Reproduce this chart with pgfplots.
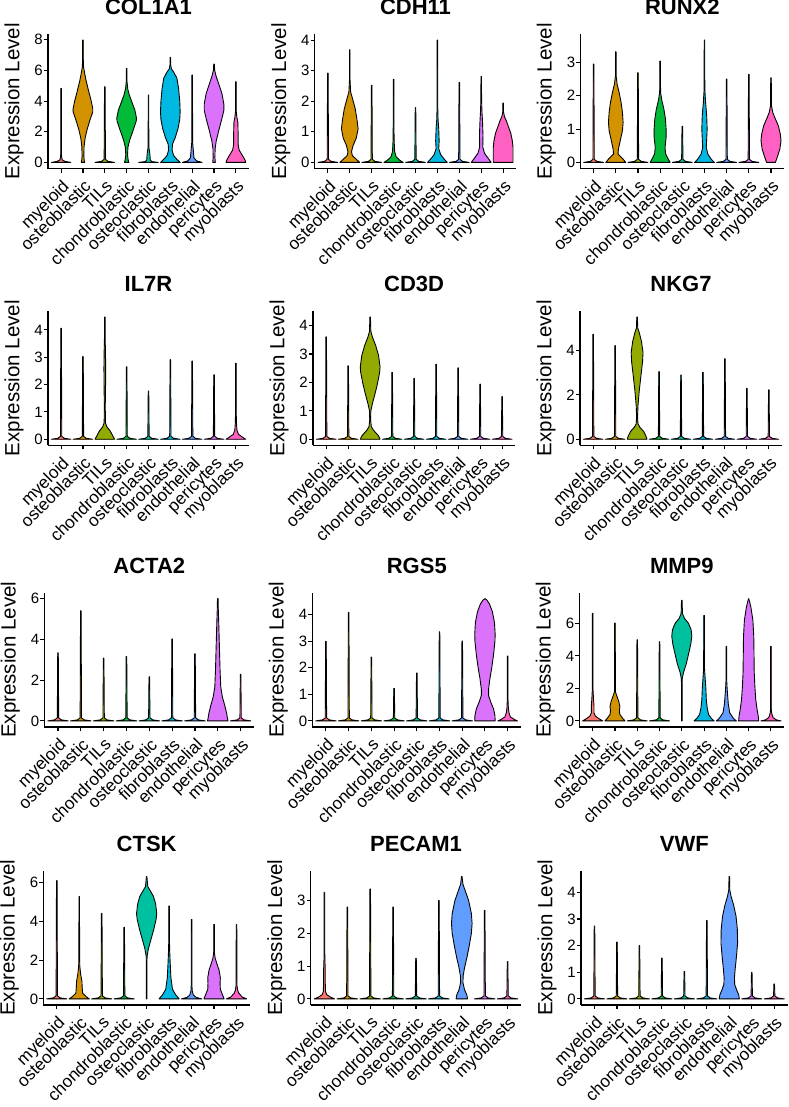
\documentclass[border=0pt]{standalone}
\usepackage{fontspec}
\setmainfont{Liberation Sans}
\usepackage{pgfplots}
\pgfplotsset{compat=1.18}

\definecolor{c1}{HTML}{F8766D}
\definecolor{c2}{HTML}{D39200}
\definecolor{c3}{HTML}{93AA00}
\definecolor{c4}{HTML}{00BA38}
\definecolor{c5}{HTML}{00C19F}
\definecolor{c6}{HTML}{00B9E3}
\definecolor{c7}{HTML}{619CFF}
\definecolor{c8}{HTML}{DB72FB}
\definecolor{c9}{HTML}{FF61C3}

\newcommand\tkf{\fontsize{17.2bp}{19bp}\selectfont}
\newcommand\ytf{\fontsize{15bp}{17bp}\selectfont}
\newcommand\titf{\bfseries\fontsize{22bp}{24bp}\selectfont}
\newcommand\ylf{\fontsize{20.5bp}{22bp}\selectfont}

% one violin: #1 category, #2 colour, #3 half-profile rows "w y" (half width, level)
\newcommand\violin[3]{%
  \addplot[fill=#2, draw=#2, line width=0.3bp, forget plot] table[row sep=crcr, x expr=#1+\thisrow{w}-0.015, y=y] {w y\\ #3\\};
  \addplot[fill=#2, draw=#2, line width=0.3bp, forget plot] table[row sep=crcr, x expr=#1-\thisrow{w}+0.015, y=y] {w y\\ #3\\};
  \addplot[vl, forget plot] table[row sep=crcr, x expr=#1+\thisrow{w}, y=y] {w y\\ #3\\};
  \addplot[vl, forget plot] table[row sep=crcr, x expr=#1-\thisrow{w}, y=y] {w y\\ #3\\};
}
% mostly-zero violin: #3 max, #4 #5 heights of the blob at zero
\newcommand\tv[5]{\violin{#1}{#2}{0 0\\0.45 0\\0.15 #4\\0.03 #5\\0.012 #3\\0 #3}}

\pgfplotsset{
  vl/.style={draw=black, line width=0.9bp, line join=round},
  vp/.style={
    scale only axis, height=134.5bp, anchor=south west,
    xmin=0.4, xmax=9.6,
    axis lines*=left,
    axis line style={line width=1.2bp},
    tick align=outside, major tick length=4bp,
    tick style={black, line width=1.1bp},
    xtick={1,...,9},
    xticklabels={myeloid,osteoblastic,TILs,chondroblastic,osteoclastic,fibroblasts,endothelial,pericytes,myoblasts},
    x tick label style={rotate=45, anchor=north east, inner sep=0pt, font=\tkf},
    xticklabel shift=6bp,
    y tick label style={inner sep=1bp, font=\ytf},
    /pgf/number format/assume math mode=true,
    title style={font=\titf, at={(axis description cs:0.5,1)}, anchor=center, inner sep=0pt, yshift=21bp},
    ylabel={Expression Level},
    ylabel style={font=\ylf, at={([xshift=-34bp]axis description cs:0,0.5)}, anchor=center, inner sep=0pt},
  },
}

\begin{document}
\begin{tikzpicture}
\path[use as bounding box] (0,0) rectangle (789bp,-1107bp);

% ---------------- row 1
\begin{axis}[vp, at={(48bp,-168.5bp)}, width=201bp, ymin=-0.399, ymax=8.379, ytick={0,2,4,6,8}, title={COL1A1}]
\violin{1}{c1}{0 0\\0.44 0\\0.2 0.06\\0.06 0.15\\0.03 0.3\\0.012 0.6\\0.012 4.83\\0 4.83}
\violin{2}{c2}{0 0\\0.08 0\\0.06 0.1\\0.04 0.4\\0.05 1.0\\0.1 1.6\\0.2 2.2\\0.33 2.8\\0.45 3.3\\0.45 3.5\\0.38 4.0\\0.27 4.6\\0.15 5.3\\0.08 5.8\\0.03 6.2\\0.012 6.8\\0.012 7.98\\0 7.98}
\tv{3}{c3}{4.93}{0.065}{0.2}
\violin{4}{c4}{0 0\\0.1 0\\0.07 0.15\\0.04 0.5\\0.06 1.0\\0.15 1.5\\0.3 2.1\\0.44 2.7\\0.45 2.9\\0.38 3.4\\0.25 3.9\\0.12 4.4\\0.05 4.8\\0.015 5.3\\0.012 6.13\\0 6.13}
\violin{5}{c5}{0 0\\0.45 0\\0.15 0.05\\0.08 0.15\\0.07 0.4\\0.05 0.7\\0.015 1.0\\0.012 4.39\\0 4.39}
\violin{6}{c6}{0 0\\0.45 0\\0.3 0.2\\0.15 0.45\\0.08 0.8\\0.1 1.2\\0.22 1.6\\0.35 2.2\\0.43 2.8\\0.45 3.3\\0.43 4.0\\0.38 4.8\\0.3 5.5\\0.15 5.9\\0.05 6.1\\0.012 6.4\\0.012 6.85\\0 6.85}
\violin{7}{c7}{0 0\\0.45 0\\0.2 0.1\\0.08 0.3\\0.05 0.8\\0.02 1.3\\0.012 5.7\\0 5.7}
\violin{8}{c8}{0 0\\0.06 0\\0.04 0.3\\0.05 0.9\\0.1 1.4\\0.22 2.1\\0.35 2.8\\0.45 3.4\\0.45 3.8\\0.36 4.5\\0.22 5.1\\0.1 5.6\\0.03 6.0\\0.012 6.41\\0 6.41}
\violin{9}{c9}{0 0\\0.45 0\\0.42 0.15\\0.3 0.45\\0.15 0.8\\0.1 1.2\\0.1 2.0\\0.09 2.6\\0.04 3.0\\0.012 3.4\\0.012 5.26\\0 5.26}
\end{axis}

\begin{axis}[vp, at={(314.7bp,-168.5bp)}, width=201.6bp, ymin=-0.2, ymax=4.2, ytick={0,1,2,3,4}, title={CDH11}]
\tv{1}{c1}{2.92}{0.033}{0.1}
\violin{2}{c2}{0 0\\0.45 0\\0.3 0.1\\0.12 0.22\\0.08 0.35\\0.15 0.55\\0.3 0.8\\0.38 1.1\\0.33 1.4\\0.25 1.75\\0.12 2.1\\0.04 2.3\\0.012 2.7\\0.012 3.68\\0 3.68}
\tv{3}{c3}{2.52}{0.033}{0.1}
\violin{4}{c4}{0 0\\0.44 0\\0.3 0.06\\0.12 0.18\\0.05 0.35\\0.025 0.7\\0.015 1.3\\0.012 2.72\\0 2.72}
\tv{5}{c5}{1.79}{0.033}{0.1}
\violin{6}{c6}{0 0\\0.45 0\\0.32 0.1\\0.15 0.25\\0.06 0.45\\0.08 0.7\\0.06 1.1\\0.03 1.4\\0.015 1.8\\0.012 4.0\\0 4.0}
\tv{7}{c7}{2.62}{0.033}{0.1}
\violin{8}{c8}{0 0\\0.45 0\\0.35 0.1\\0.15 0.3\\0.07 0.5\\0.08 0.9\\0.06 1.3\\0.03 1.7\\0.015 2.1\\0.012 2.81\\0 2.81}
\violin{9}{c9}{0 0\\0.45 0\\0.45 0.2\\0.45 0.5\\0.42 0.7\\0.35 0.95\\0.25 1.15\\0.15 1.35\\0.06 1.5\\0.015 1.65\\0.012 1.94\\0 1.94}
\end{axis}

\begin{axis}[vp, at={(580.3bp,-168.5bp)}, width=204bp, ymin=-0.1835, ymax=3.8535, ytick={0,1,2,3}, title={RUNX2}]
\tv{1}{c1}{2.95}{0.03}{0.09}
\violin{2}{c2}{0 0\\0.45 0\\0.3 0.12\\0.1 0.25\\0.12 0.4\\0.2 0.65\\0.3 0.95\\0.33 1.2\\0.3 1.5\\0.24 1.8\\0.15 2.1\\0.06 2.35\\0.015 2.6\\0.012 3.32\\0 3.32}
\tv{3}{c3}{2.69}{0.03}{0.09}
\violin{4}{c4}{0 0\\0.45 0\\0.38 0.08\\0.25 0.25\\0.22 0.45\\0.27 0.75\\0.27 1.0\\0.24 1.3\\0.17 1.6\\0.08 1.85\\0.02 2.1\\0.012 3.04\\0 3.04}
\tv{5}{c5}{1.08}{0.03}{0.09}
\violin{6}{c6}{0 0\\0.45 0\\0.3 0.1\\0.15 0.25\\0.08 0.45\\0.1 0.7\\0.12 1.0\\0.1 1.4\\0.05 1.8\\0.015 2.2\\0.012 3.67\\0 3.67}
\tv{7}{c7}{2.5}{0.03}{0.09}
\tv{8}{c8}{2.64}{0.03}{0.09}
\violin{9}{c9}{0 0\\0.2 0\\0.28 0.15\\0.4 0.4\\0.45 0.65\\0.42 0.85\\0.33 1.1\\0.2 1.3\\0.08 1.5\\0.02 1.7\\0.012 2.54\\0 2.54}
\end{axis}

% ---------------- row 2
\begin{axis}[vp, at={(48bp,-445.4bp)}, width=201bp, ymin=-0.2235, ymax=4.6935, ytick={0,1,2,3,4}, title={IL7R}]
\tv{1}{c1}{4.06}{0.036}{0.11}
\tv{2}{c2}{3.02}{0.036}{0.11}
\violin{3}{c3}{0 0\\0.45 0\\0.38 0.1\\0.25 0.3\\0.1 0.45\\0.03 0.6\\0.02 1.2\\0.035 2.0\\0.04 2.6\\0.03 3.2\\0.015 3.7\\0.012 4.47\\0 4.47}
\tv{4}{c4}{2.65}{0.036}{0.11}
\tv{5}{c5}{1.76}{0.036}{0.11}
\tv{6}{c6}{2.91}{0.036}{0.11}
\tv{7}{c7}{2.86}{0.036}{0.11}
\tv{8}{c8}{2.36}{0.036}{0.11}
\violin{9}{c9}{0 0\\0.45 0\\0.3 0.08\\0.12 0.18\\0.05 0.33\\0.025 0.6\\0.015 1.0\\0.012 2.78\\0 2.78}
\end{axis}

\begin{axis}[vp, at={(313bp,-445.4bp)}, width=202.3bp, ymin=-0.215, ymax=4.515, ytick={0,1,2,3,4}, title={CD3D}]
\tv{1}{c1}{3.6}{0.035}{0.1}
\tv{2}{c2}{2.58}{0.035}{0.1}
\violin{3}{c3}{0 0\\0.45 0\\0.38 0.12\\0.15 0.32\\0.05 0.45\\0.02 0.7\\0.03 1.0\\0.1 1.25\\0.22 1.6\\0.33 1.95\\0.43 2.35\\0.45 2.55\\0.38 2.95\\0.25 3.3\\0.1 3.6\\0.03 3.8\\0.012 4.3\\0 4.3}
\tv{4}{c4}{2.35}{0.035}{0.1}
\tv{5}{c5}{2.14}{0.035}{0.1}
\tv{6}{c6}{2.64}{0.035}{0.1}
\tv{7}{c7}{2.51}{0.035}{0.1}
\tv{8}{c8}{1.94}{0.035}{0.1}
\tv{9}{c9}{1.5}{0.035}{0.1}
\end{axis}

\begin{axis}[vp, at={(580bp,-445.4bp)}, width=202bp, ymin=-0.275, ymax=5.775, ytick={0,2,4}, title={NKG7}]
\tv{1}{c1}{4.72}{0.045}{0.13}
\tv{2}{c2}{4.21}{0.045}{0.13}
\violin{3}{c3}{0 0\\0.45 0\\0.4 0.15\\0.3 0.35\\0.12 0.55\\0.04 0.7\\0.02 1.0\\0.04 1.5\\0.1 2.2\\0.18 2.9\\0.25 3.5\\0.27 3.9\\0.2 4.4\\0.1 4.8\\0.03 5.0\\0.012 5.5\\0 5.5}
\tv{4}{c4}{3.04}{0.045}{0.13}
\tv{5}{c5}{2.89}{0.045}{0.13}
\tv{6}{c6}{3.01}{0.045}{0.13}
\tv{7}{c7}{3.62}{0.045}{0.13}
\tv{8}{c8}{2.29}{0.045}{0.13}
\tv{9}{c9}{2.22}{0.045}{0.13}
\end{axis}

% ---------------- row 3
\begin{axis}[vp, at={(44.3bp,-727bp)}, width=210bp, ymin=-0.3, ymax=6.3, ytick={0,2,4,6}, title={ACTA2}]
\tv{1}{c1}{3.34}{0.049}{0.15}
\tv{2}{c2}{5.4}{0.049}{0.15}
\tv{3}{c3}{3.08}{0.049}{0.15}
\tv{4}{c4}{3.16}{0.049}{0.15}
\tv{5}{c5}{2.16}{0.049}{0.15}
\tv{6}{c6}{4.02}{0.049}{0.15}
\tv{7}{c7}{3.29}{0.049}{0.15}
\violin{8}{c8}{0 0\\0.45 0\\0.42 0.15\\0.39 0.37\\0.3 0.78\\0.2 1.18\\0.13 1.67\\0.1 2.5\\0.08 3.3\\0.06 4.1\\0.04 4.9\\0.02 5.56\\0.012 6.0\\0 6.0}
\tv{9}{c9}{2.29}{0.049}{0.15}
\end{axis}

\begin{axis}[vp, at={(312.3bp,-727bp)}, width=209bp, ymin=-0.23, ymax=4.83, ytick={0,1,2,3,4}, title={RGS5}]
\tv{1}{c1}{2.99}{0.038}{0.11}
\tv{2}{c2}{4.08}{0.038}{0.11}
\tv{3}{c3}{2.4}{0.038}{0.11}
\tv{4}{c4}{1.22}{0.038}{0.11}
\tv{5}{c5}{1.8}{0.038}{0.11}
\tv{6}{c6}{3.35}{0.038}{0.11}
\tv{7}{c7}{3.0}{0.038}{0.11}
\violin{8}{c8}{0 0\\0.45 0\\0.44 0.2\\0.38 0.45\\0.26 0.7\\0.16 0.95\\0.16 1.2\\0.22 1.6\\0.3 2.0\\0.38 2.5\\0.44 3.0\\0.45 3.25\\0.42 3.7\\0.33 4.1\\0.2 4.4\\0.08 4.55\\0 4.6}
\violin{9}{c9}{0 0\\0.43 0\\0.3 0.05\\0.12 0.15\\0.06 0.3\\0.03 0.5\\0.015 0.8\\0.012 2.44\\0 2.44}
\end{axis}

\begin{axis}[vp, at={(579.3bp,-727bp)}, width=205bp, ymin=-0.376, ymax=7.896, ytick={0,2,4,6}, title={MMP9}]
\violin{1}{c1}{0 0\\0.45 0\\0.3 0.12\\0.12 0.3\\0.06 0.5\\0.06 0.9\\0.04 1.3\\0.015 1.9\\0.012 6.62\\0 6.62}
\violin{2}{c2}{0 0\\0.45 0\\0.35 0.15\\0.22 0.4\\0.2 0.6\\0.22 0.9\\0.17 1.2\\0.08 1.55\\0.02 1.8\\0.012 6.02\\0 6.02}
\tv{3}{c3}{4.99}{0.062}{0.19}
\tv{4}{c4}{4.87}{0.062}{0.19}
\violin{5}{c5}{0 0\\0.012 0\\0.012 2.2\\0.02 2.6\\0.08 3.0\\0.2 3.5\\0.3 4.1\\0.4 4.7\\0.45 5.2\\0.42 5.6\\0.3 6.0\\0.12 6.3\\0.03 6.6\\0.012 7.41\\0 7.41}
\violin{6}{c6}{0 0\\0.45 0\\0.33 0.15\\0.2 0.4\\0.14 0.8\\0.1 1.3\\0.08 2.0\\0.05 2.6\\0.02 3.2\\0.012 6.48\\0 6.48}
\violin{7}{c7}{0 0\\0.45 0\\0.32 0.15\\0.15 0.5\\0.09 1.0\\0.06 1.5\\0.03 2.1\\0.015 2.5\\0.012 4.58\\0 4.58}
\violin{8}{c8}{0 0\\0.45 0\\0.43 0.3\\0.38 0.7\\0.32 1.3\\0.28 2.1\\0.25 3.0\\0.24 4.2\\0.23 5.2\\0.19 6.2\\0.1 7.0\\0.04 7.35\\0 7.52}
\violin{9}{c9}{0 0\\0.45 0\\0.25 0.06\\0.1 0.2\\0.06 0.35\\0.03 0.5\\0.015 0.7\\0.012 4.58\\0 4.58}
\end{axis}

% ---------------- row 4
\begin{axis}[vp, at={(43.3bp,-1005bp)}, width=206.7bp, ymin=-0.3155, ymax=6.6255, ytick={0,2,4,6}, title={CTSK}]
\tv{1}{c1}{6.1}{0.052}{0.16}
\violin{2}{c2}{0 0\\0.45 0\\0.3 0.12\\0.15 0.3\\0.13 0.6\\0.12 0.9\\0.06 1.3\\0.025 1.7\\0.015 2.1\\0.012 5.28\\0 5.28}
\tv{3}{c3}{4.41}{0.052}{0.16}
\tv{4}{c4}{3.69}{0.052}{0.16}
\violin{5}{c5}{0 0\\0.012 0\\0.012 1.8\\0.02 2.2\\0.08 2.6\\0.2 3.1\\0.32 3.6\\0.42 4.1\\0.45 4.4\\0.4 4.9\\0.3 5.3\\0.15 5.6\\0.05 5.8\\0.012 6.31\\0 6.31}
\violin{6}{c6}{0 0\\0.45 0\\0.3 0.2\\0.15 0.5\\0.08 1.1\\0.05 1.8\\0.025 2.5\\0.015 3.0\\0.012 4.79\\0 4.79}
\violin{7}{c7}{0 0\\0.45 0\\0.2 0.08\\0.08 0.2\\0.03 0.4\\0.015 0.7\\0.012 4.1\\0 4.1}
\violin{8}{c8}{0 0\\0.45 0\\0.38 0.2\\0.28 0.5\\0.27 0.8\\0.28 1.1\\0.22 1.5\\0.13 1.8\\0.05 2.1\\0.015 2.4\\0.012 3.84\\0 3.84}
\violin{9}{c9}{0 0\\0.45 0\\0.25 0.1\\0.1 0.3\\0.05 0.45\\0.02 0.7\\0.012 3.84\\0 3.84}
\end{axis}

\begin{axis}[vp, at={(310.7bp,-1005bp)}, width=210.6bp, ymin=-0.1865, ymax=3.9165, ytick={0,1,2,3}, title={PECAM1}]
\violin{1}{c1}{0 0\\0.44 0\\0.25 0.06\\0.1 0.13\\0.05 0.22\\0.035 0.5\\0.035 0.9\\0.02 1.2\\0.012 1.5\\0.012 3.25\\0 3.25}
\tv{2}{c2}{2.8}{0.03}{0.09}
\tv{3}{c3}{3.35}{0.03}{0.09}
\tv{4}{c4}{2.8}{0.03}{0.09}
\tv{5}{c5}{1.24}{0.03}{0.09}
\tv{6}{c6}{3.0}{0.03}{0.09}
\violin{7}{c7}{0 0\\0.25 0\\0.22 0.12\\0.12 0.28\\0.05 0.5\\0.06 0.7\\0.12 0.95\\0.22 1.25\\0.32 1.6\\0.42 2.0\\0.45 2.3\\0.42 2.6\\0.3 3.0\\0.15 3.3\\0.05 3.5\\0.012 3.73\\0 3.73}
\tv{8}{c8}{2.7}{0.03}{0.09}
\tv{9}{c9}{1.14}{0.03}{0.09}
\end{axis}

\begin{axis}[vp, at={(581bp,-1005bp)}, width=206.7bp, ymin=-0.2295, ymax=4.8195, ytick={0,1,2,3,4}, title={VWF}]
\tv{1}{c1}{2.73}{0.037}{0.11}
\tv{2}{c2}{2.13}{0.037}{0.11}
\tv{3}{c3}{2.0}{0.037}{0.11}
\tv{4}{c4}{1.53}{0.037}{0.11}
\tv{5}{c5}{1.03}{0.037}{0.11}
\tv{6}{c6}{2.94}{0.037}{0.11}
\violin{7}{c7}{0 0\\0.45 0\\0.42 0.15\\0.32 0.35\\0.24 0.55\\0.23 0.8\\0.26 1.1\\0.32 1.6\\0.37 2.1\\0.36 2.6\\0.3 3.1\\0.2 3.5\\0.08 3.85\\0.02 4.1\\0.012 4.59\\0 4.59}
\tv{8}{c8}{1.0}{0.037}{0.11}
\tv{9}{c9}{0.56}{0.037}{0.11}
\end{axis}
\end{tikzpicture}
\end{document}
